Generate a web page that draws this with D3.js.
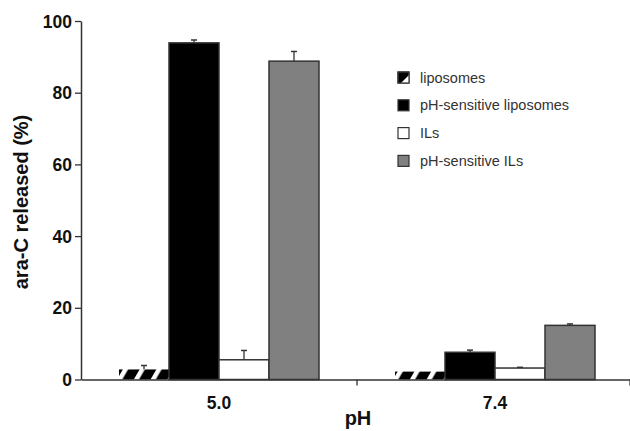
<!DOCTYPE html>
<html><head><meta charset="utf-8">
<script src="https://cdn.jsdelivr.net/npm/d3@7"></script>
<style>body{margin:0;background:#fff}svg{display:block}</style>
</head><body><svg id="c" width="630" height="431"></svg>
<script>
const categories = ["5.0", "7.4"];
const seriesNames = ["liposomes", "pH-sensitive liposomes", "ILs", "pH-sensitive ILs"];
const values = [
  [2.8, 93.9, 5.5, 88.8],
  [2.2, 7.6, 3.2, 15.1]
];
const errors = [
  [1.1, 0.8, 2.6, 2.7],
  [0.0, 0.6, 0.2, 0.4]
];
const yTicks = [0, 20, 40, 60, 80, 100];
const xTitle = "pH";
const yTitle = "ara-C released (%)";

const svg = d3.select("#c");
const defs = svg.append("defs");
const pat = defs.append("pattern").attr("id","hatch").attr("patternUnits","userSpaceOnUse")
  .attr("width",14.5).attr("height",14.5).attr("patternTransform","translate(4,0) rotate(30)");
pat.append("rect").attr("width",14.5).attr("height",14.5).attr("fill","#000");
pat.append("rect").attr("x",0).attr("width",4.5).attr("height",14.5).attr("fill","#fff");

const fills = ["url(#hatch)", "#000", "#fff", "#808080"];
const legendFills = ["#000", "#000", "#fff", "#808080"];

const x0 = 81, x1 = 633, yTop = 21, yBot = 379.5;
const x = d3.scaleBand().domain(categories).range([x0, x1]).paddingInner(0).paddingOuter(0);
const y = d3.scaleLinear().domain([0, 100]).range([yBot, yTop]);
const xs = d3.scaleBand().domain(seriesNames).range([0, x.bandwidth()]).paddingOuter(0.76).paddingInner(0);

const axisColor = "#333";

// bars
categories.forEach((c, ci) => {
  const g = svg.append("g").attr("transform", `translate(${x(c)},0)`);
  seriesNames.forEach((s, si) => {
    const v = values[ci][si], e = errors[ci][si];
    const bx = xs(s), bw = xs.bandwidth();
    g.append("rect").attr("x", bx).attr("y", y(v)).attr("width", bw).attr("height", y(0) - y(v))
      .attr("fill", fills[si]).attr("stroke", si === 0 ? "none" : "#333").attr("stroke-width", 1.5);
    if (e > 0) {
      const cx = bx + bw / 2;
      g.append("line").attr("x1", cx).attr("x2", cx).attr("y1", y(v)).attr("y2", y(v + e))
        .attr("stroke", "#333").attr("stroke-width", 1.3);
      g.append("line").attr("x1", cx - 3).attr("x2", cx + 3).attr("y1", y(v + e)).attr("y2", y(v + e))
        .attr("stroke", "#333").attr("stroke-width", 1.5);
    }
  });
});

// y axis
const yAxis = svg.append("g").attr("transform", `translate(${x0},0)`)
  .call(d3.axisLeft(y).tickValues(yTicks).tickSize(6).tickPadding(3).tickSizeOuter(0));
yAxis.select(".domain").attr("stroke", axisColor).attr("stroke-width", 1.5);
yAxis.selectAll(".tick line").attr("stroke", axisColor).attr("stroke-width", 1.3);
yAxis.selectAll(".tick text").attr("font-family", "Liberation Sans, Arial, sans-serif")
  .attr("font-weight", "bold").attr("font-size", 17.5).attr("fill", "#111").attr("dy", "0.35em");

// x axis
const xAxis = svg.append("g").attr("transform", `translate(0,${yBot})`)
  .call(d3.axisBottom(x).tickSize(0).tickPadding(17).tickSizeOuter(0));
xAxis.select(".domain").attr("stroke", axisColor).attr("stroke-width", 1.5);
xAxis.selectAll(".tick text").attr("font-family", "Liberation Sans, Arial, sans-serif")
  .attr("font-weight", "bold").attr("font-size", 17.5).attr("fill", "#111");
// separator ticks between categories
const sepX = [x(categories[1]), x(categories[1]) + x.bandwidth() - 3];
svg.selectAll(".sep").data(sepX).enter().append("line")
  .attr("x1", d => d).attr("x2", d => d).attr("y1", yBot).attr("y2", yBot + 6)
  .attr("stroke", axisColor).attr("stroke-width", 1.3);

// titles
svg.append("text").attr("x", 358).attr("y", 425).attr("text-anchor", "middle")
  .attr("font-family", "Liberation Sans, Arial, sans-serif").attr("font-weight", "bold")
  .attr("font-size", 20).attr("fill", "#111").text(xTitle);
svg.append("text").attr("transform", "translate(28,202) rotate(-90)").attr("text-anchor", "middle")
  .attr("font-family", "Liberation Sans, Arial, sans-serif").attr("font-weight", "bold")
  .attr("font-size", 20).attr("fill", "#111").text(yTitle);

// legend
const leg = svg.append("g").attr("transform", "translate(398,72)");
seriesNames.forEach((s, i) => {
  const gy = i * 27.8;
  leg.append("rect").attr("x", 0).attr("y", gy).attr("width", 11).attr("height", 11)
    .attr("fill", legendFills[i]).attr("stroke", "#333").attr("stroke-width", 1.2);
  if (i === 0) {
    leg.append("path").attr("d", `M11,${gy+3} L11,${gy+11} L3,${gy+11} Z`).attr("fill", "#fff");
    leg.append("rect").attr("x", 0).attr("y", gy).attr("width", 11).attr("height", 11)
      .attr("fill", "none").attr("stroke", "#333").attr("stroke-width", 1.2);
  }
  leg.append("text").attr("x", 22).attr("y", gy + 10.5)
    .attr("font-family", "Liberation Sans, Arial, sans-serif").attr("font-size", 14.5)
    .attr("fill", "#333").text(s);
});
</script></body></html>
